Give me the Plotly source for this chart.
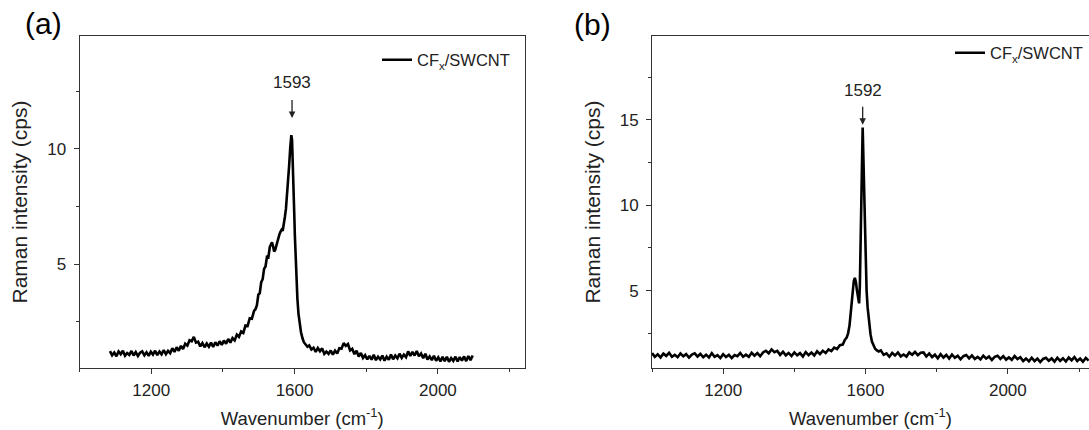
import plotly.graph_objects as go

# ---------------- Panel (a) data ----------------
wn_a = [1085, 1091, 1097, 1103, 1109, 1115, 1121, 1127, 1133, 1139,
        1145, 1151, 1157, 1163, 1169, 1175, 1181, 1187, 1193, 1199,
        1205, 1211, 1217, 1223, 1229, 1235, 1241, 1247, 1253, 1259,
        1265, 1271, 1277, 1283, 1289, 1295, 1301, 1307, 1313, 1319,
        1325, 1331, 1337, 1343, 1349, 1355, 1361, 1367, 1373, 1379,
        1385, 1391, 1397, 1403, 1409, 1415, 1421, 1427, 1433, 1439,
        1445, 1451, 1457, 1463, 1469, 1475, 1481, 1487,
        1491, 1495, 1499, 1503, 1507, 1511, 1515, 1519, 1523, 1527,
        1531, 1534, 1537, 1540, 1543, 1546, 1549, 1552, 1555, 1558,
        1561, 1564, 1567, 1570, 1573, 1576, 1579, 1582, 1585, 1588,
        1591, 1593, 1595, 1597, 1599, 1601, 1603, 1605, 1608, 1611,
        1614, 1618, 1622, 1626, 1631, 1636,
        1641, 1647, 1653, 1659, 1665, 1671, 1677, 1683, 1689, 1695,
        1701, 1707, 1713, 1719, 1725, 1731, 1737, 1743, 1749, 1755,
        1761, 1767, 1773, 1779, 1785, 1791, 1797, 1803, 1809, 1815,
        1821, 1827, 1833, 1839, 1845, 1851, 1857, 1863, 1869, 1875,
        1881, 1887, 1893, 1899, 1905, 1911, 1917, 1923, 1929, 1935,
        1941, 1947, 1953, 1959, 1965, 1971, 1977, 1983, 1989, 1995,
        2001, 2007, 2013, 2019, 2025, 2031, 2037, 2043, 2049, 2055,
        2061, 2067, 2073, 2079, 2085, 2091, 2097]
int_a = [1.23, 1.05, 1.17, 1.01, 1.22, 1.10, 1.25, 1.03, 1.15, 1.07,
         1.24, 1.04, 1.19, 1.02, 1.16, 1.22, 1.05, 1.18, 1.03, 1.21,
         1.08, 1.25, 1.06, 1.21, 1.09, 1.28, 1.10, 1.24, 1.14, 1.36,
         1.20, 1.40, 1.25, 1.46, 1.32, 1.55, 1.47, 1.70, 1.66, 1.85,
         1.60, 1.64, 1.44, 1.58, 1.40, 1.56, 1.42, 1.60, 1.41, 1.62,
         1.47, 1.66, 1.50, 1.69, 1.55, 1.76, 1.60, 1.80, 1.70, 1.95,
         1.85, 2.08, 2.02, 2.34, 2.32, 2.66, 2.64, 2.98,
         3.05, 3.22, 3.68, 3.75, 4.22, 4.35, 4.80, 4.90, 5.32, 5.30,
         5.75, 5.85, 5.95, 5.78, 5.55, 5.62, 5.80, 6.05, 6.25, 6.30,
         6.42, 6.50, 6.45, 6.70, 7.05, 7.40, 7.95, 8.60, 9.30, 10.05,
         10.60, 10.40, 9.60, 8.50, 7.30, 6.20, 5.20, 4.40, 3.50, 2.85,
         2.40, 2.05, 1.80, 1.62, 1.52, 1.42,
         1.48, 1.30, 1.38, 1.20, 1.37, 1.23, 1.35, 1.11, 1.21, 1.11,
         1.26, 1.08, 1.25, 1.13, 1.36, 1.34, 1.58, 1.46, 1.54, 1.26,
         1.33, 1.10, 1.25, 1.00, 1.15, 0.94, 1.06, 0.87, 1.03, 0.86,
         1.07, 0.84, 0.99, 0.87, 1.04, 0.82, 0.99, 0.86, 1.08, 0.88,
         1.04, 0.92, 1.12, 0.94, 1.08, 0.97, 1.22, 1.02, 1.20, 1.04,
         1.24, 1.01, 1.13, 0.92, 1.12, 0.87, 1.00, 0.84, 1.03, 0.81,
         0.96, 0.79, 0.98, 0.80, 0.99, 0.77, 0.93, 0.81, 0.99, 0.78,
         0.97, 0.82, 1.00, 0.80, 1.02, 0.84, 1.04]

# ---------------- Panel (b) data ----------------
wn_b = [1000, 1008, 1016, 1024, 1032, 1040, 1048, 1056, 1064, 1072,
        1080, 1088, 1096, 1104, 1112, 1120, 1128, 1136, 1144, 1152,
        1160, 1168, 1176, 1184, 1192, 1200, 1208, 1216, 1224, 1232,
        1240, 1248, 1256, 1264, 1272, 1280, 1288, 1296, 1304, 1312,
        1320, 1328, 1336, 1344, 1352, 1360, 1368, 1376, 1384, 1392,
        1400, 1408, 1416, 1424, 1432, 1440, 1448, 1456, 1464, 1472,
        1480, 1488, 1496, 1504, 1512, 1520, 1528, 1536,
        1542, 1547, 1551, 1555, 1558, 1561, 1564, 1567, 1570, 1573,
        1576, 1579, 1582, 1584, 1586, 1588, 1590, 1592, 1594, 1596,
        1598, 1600, 1603, 1606, 1610, 1614, 1618, 1622, 1627, 1632,
        1637,
        1643, 1651, 1659, 1667, 1675, 1683, 1691, 1699, 1707, 1715,
        1723, 1731, 1739, 1747, 1755, 1763, 1771, 1779, 1787, 1795,
        1803, 1811, 1819, 1827, 1835, 1843, 1851, 1859, 1867, 1875,
        1883, 1891, 1899, 1907, 1915, 1923, 1931, 1939, 1947, 1955,
        1963, 1971, 1979, 1987, 1995, 2003, 2011, 2019, 2027, 2035,
        2043, 2051, 2059, 2067, 2075, 2083, 2091, 2099, 2107, 2115,
        2123, 2131, 2139, 2147, 2155, 2163, 2171, 2179, 2187, 2195,
        2203, 2211, 2219, 2227]
int_b = [1.34, 1.12, 1.27, 1.09, 1.31, 1.18, 1.36, 1.13, 1.24, 1.10,
         1.32, 1.15, 1.28, 1.08, 1.26, 1.33, 1.14, 1.30, 1.10, 1.25,
         1.09, 1.34, 1.12, 1.22, 1.05, 1.28, 1.11, 1.24, 1.05, 1.23,
         1.16, 1.35, 1.13, 1.25, 1.12, 1.36, 1.19, 1.34, 1.16, 1.38,
         1.48, 1.33, 1.56, 1.40, 1.47, 1.24, 1.42, 1.21, 1.35, 1.17,
         1.38, 1.21, 1.34, 1.14, 1.40, 1.22, 1.37, 1.20, 1.45, 1.28,
         1.48, 1.35, 1.56, 1.46, 1.66, 1.58, 1.80, 1.84,
         2.12, 2.25, 2.50, 2.95, 3.60, 4.40, 5.10, 5.55, 5.75, 5.50,
         5.00, 4.50, 4.25, 5.20, 7.00, 9.20, 12.30, 14.55, 12.60, 10.20,
         8.20, 6.60, 5.00, 4.00, 3.00, 2.45, 2.02, 1.78, 1.60, 1.50,
         1.44,
         1.50, 1.24, 1.33, 1.13, 1.35, 1.20, 1.38, 1.15, 1.26, 1.14,
         1.38, 1.25, 1.41, 1.22, 1.36, 1.38, 1.14, 1.32, 1.11, 1.25,
         1.04, 1.28, 1.08, 1.23, 1.02, 1.26, 1.07, 1.19, 0.98, 1.16,
         1.23, 1.03, 1.20, 1.00, 1.12, 0.97, 1.19, 1.02, 1.14, 0.94,
         1.12, 1.19, 1.00, 1.16, 0.96, 1.09, 0.95, 1.17, 0.99, 1.10,
         0.88, 1.03, 0.86, 1.07, 0.87, 1.02, 0.82, 1.00, 1.07, 0.89,
         1.03, 0.84, 1.07, 0.89, 1.04, 0.85, 1.08, 0.92, 1.11, 0.88,
         1.02, 0.84, 1.06, 0.90]

series_name = "CF<sub>x</sub>/SWCNT"
peak_a = 1593
peak_b = 1592
x_major_ticks = [1200, 1600, 2000]

W, H = 1089, 430
FONT = "Liberation Sans, Arial, sans-serif"
AX = "#333333"
TXT = "#222222"

fig = go.Figure()
fig.add_trace(go.Scatter(x=wn_a, y=int_a, mode="lines", name=series_name,
                         line=dict(color="black", width=2.6),
                         xaxis="x", yaxis="y", legend="legend"))
fig.add_trace(go.Scatter(x=wn_b, y=int_b, mode="lines", name=series_name,
                         line=dict(color="black", width=2.6),
                         xaxis="x2", yaxis="y2", legend="legend2"))

ydom = [1 - 368 / H, 1 - 36 / H]


def xaxis(domain, rng, anchor, mirror):
    return dict(domain=domain, range=rng, anchor=anchor,
                showline=True, linecolor=AX, linewidth=1, mirror=mirror,
                ticks="outside", ticklen=5, tickcolor=AX, tickwidth=1,
                tickmode="array", tickvals=x_major_ticks,
                ticklabelstandoff=2,
                minor=dict(tickmode="linear", tick0=1000, dtick=200,
                           ticks="outside", ticklen=3, tickcolor=AX),
                showgrid=False, zeroline=False,
                tickfont=dict(family=FONT, size=17, color=TXT),
                title=dict(text="Wavenumber (cm<sup>-1</sup>)", standoff=12,
                           font=dict(family=FONT, size=18.5, color=TXT)))


def yaxis(rng, anchor, mirror):
    return dict(domain=ydom, range=rng, anchor=anchor,
                showline=True, linecolor=AX, linewidth=1, mirror=mirror,
                ticks="outside", ticklen=5, tickcolor=AX, tickwidth=1,
                tick0=0, dtick=5, ticklabelstandoff=4,
                minor=dict(tick0=0, dtick=2.5, ticks="outside", ticklen=3,
                           tickcolor=AX),
                showgrid=False, zeroline=False,
                tickfont=dict(family=FONT, size=17, color=TXT),
                title=dict(text="Raman intensity (cps)", standoff=13,
                           font=dict(family=FONT, size=21, color=TXT)))


fig.update_layout(
    width=W, height=H,
    margin=dict(l=0, r=0, t=0, b=0, autoexpand=False),
    paper_bgcolor="white", plot_bgcolor="white",
    font=dict(family=FONT, color=TXT),
    showlegend=True,
    xaxis=xaxis([79.5 / W, 525 / W], [1000, 2243], "y", True),
    yaxis=yaxis([0.5, 14.9], "x", True),
    xaxis2=xaxis([652 / W, 1.0], [1000, 2228], "y2", True),
    yaxis2=yaxis([0.47, 19.9], "x2", False),
    legend=dict(x=377 / W, y=1 - 60 / H, xanchor="left", yanchor="middle",
                bgcolor="rgba(0,0,0,0)", borderwidth=0,
                font=dict(family=FONT, size=16.5, color=TXT)),
    legend2=dict(x=950 / W, y=1 - 53 / H, xanchor="left", yanchor="middle",
                 bgcolor="rgba(0,0,0,0)", borderwidth=0,
                 font=dict(family=FONT, size=16.5, color=TXT)),
    annotations=[
        dict(text="(a)", x=43 / W, y=1 - 23 / H, xref="paper", yref="paper",
             xanchor="center", yanchor="middle", showarrow=False,
             font=dict(family=FONT, size=30, color="black")),
        dict(text="(b)", x=592 / W, y=1 - 25 / H, xref="paper", yref="paper",
             xanchor="center", yanchor="middle", showarrow=False,
             font=dict(family=FONT, size=30, color="black")),
        dict(text=str(peak_a), x=peak_a, y=11.34, xref="x", yref="y",
             showarrow=True, ax=0, ay=-36, startstandoff=7,
             arrowhead=2, arrowsize=1, arrowwidth=1.3, arrowcolor=TXT,
             font=dict(family=FONT, size=17, color=TXT)),
        dict(text=str(peak_b), x=peak_b, y=14.7, xref="x2", yref="y2",
             showarrow=True, ax=0, ay=-34, startstandoff=5,
             arrowhead=2, arrowsize=1, arrowwidth=1.3, arrowcolor=TXT,
             font=dict(family=FONT, size=17, color=TXT)),
    ],
)

fig.write_html("out.html", config={"displayModeBar": False},
               post_script="document.body.style.margin='0px';")
